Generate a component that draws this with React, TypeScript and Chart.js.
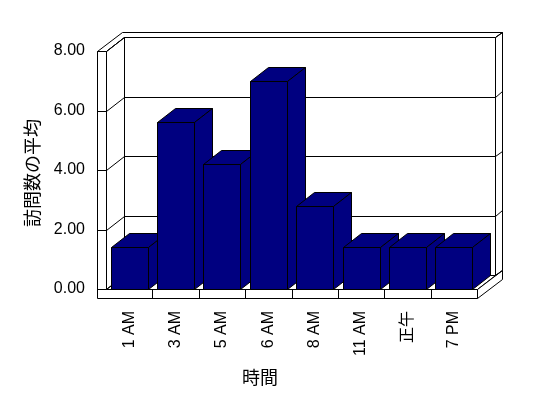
import React, { useEffect, useRef } from "react";
import { Chart, registerables } from "chart.js";

Chart.register(...registerables);

// ---- data ----
const categories = ["1 AM", "3 AM", "5 AM", "6 AM", "8 AM", "11 AM", "正午", "7 PM"];
const visits = [1.4, 5.6, 4.2, 7.0, 2.8, 1.4, 1.4, 1.4];
const yTicks = [0, 2, 4, 6, 8];
const yTitle = "訪問数の平均";
const xTitle = "時間";

// ---- layout / style ----
const W = 548;
const H = 398;
const AREA = { left: 106, right: 477, top: 51, bottom: 289 };
const DEPTH = { dx: 18, dy: -14 };
const WALL = { side: 9, floor: 9, back: 0.38 };
const BAR_COLOR = "#000080";
const LABEL_FONT = "'Liberation Sans', Arial, 'Noto Sans CJK JP', sans-serif";
const CJK_FONT = "'Noto Sans CJK JP', sans-serif";

const px = (v: number) => Math.round(v) + 0.5;

function poly(ctx: CanvasRenderingContext2D, pts: number[][], fill: string | null) {
  ctx.beginPath();
  pts.forEach(([a, b], i) => (i ? ctx.lineTo(px(a), px(b)) : ctx.moveTo(px(a), px(b))));
  ctx.closePath();
  if (fill) {
    ctx.fillStyle = fill;
    ctx.fill();
  }
  ctx.stroke();
}

function line(ctx: CanvasRenderingContext2D, x1: number, y1: number, x2: number, y2: number) {
  ctx.beginPath();
  ctx.moveTo(px(x1), px(y1));
  ctx.lineTo(px(x2), px(y2));
  ctx.stroke();
}

const box3d = {
  id: "box3d",
  beforeDatasetsDraw(chart: any) {
    const { ctx, chartArea: a, scales } = chart;
    const ys = scales.y;
    const xs = scales.x;
    const L = a.left, R = a.right, T = a.top, B = a.bottom;
    const { dx, dy } = DEPTH;
    const k = 1 + WALL.back;
    const S = WALL.side, F = WALL.floor;
    ctx.save();
    ctx.lineWidth = 1;
    ctx.strokeStyle = "#000";
    // back wall inner face
    poly(ctx, [[L + dx, T + dy], [R + dx, T + dy], [R + dx, B + dy], [L + dx, B + dy]], "#fff");
    // top faces (left wall + back wall)
    poly(ctx, [[L - S, T], [L - S + dx * k, T + dy * k], [R + dx * k, T + dy * k], [R + dx, T + dy], [L + dx, T + dy], [L, T]], "#fff");
    // back wall right face
    poly(ctx, [[R + dx, T + dy], [R + dx * k, T + dy * k], [R + dx * k, B + dy * k], [R + dx, B + dy]], "#fff");
    // left wall inner face
    poly(ctx, [[L, T], [L + dx, T + dy], [L + dx, B + dy], [L, B]], "#fff");
    // floor top
    poly(ctx, [[L, B], [R, B], [R + dx, B + dy], [L + dx, B + dy]], "#fff");
    // floor right face
    poly(ctx, [[R, B], [R + dx * k, B + dy * k], [R + dx * k, B + F + dy * k], [R, B + F]], "#fff");
    // front L (left wall front + floor front)
    poly(ctx, [[L - S, T], [L, T], [L, B], [R, B], [R, B + F], [L - S, B + F]], "#fff");
    // gridlines
    yTicks.forEach((v) => {
      const yy = ys.getPixelForValue(v);
      line(ctx, L + dx, yy + dy, R + dx, yy + dy);
      line(ctx, L, yy, L + dx, yy + dy);
      line(ctx, L - S, yy, L, yy);
      line(ctx, R + dx, yy + dy, R + dx * k, yy + dy * k);
    });
    // floor dividers between categories
    for (let i = 1; i < categories.length; i++) {
      const xb = (xs.getPixelForValue(i - 1) + xs.getPixelForValue(i)) / 2;
      line(ctx, xb, B, xb, B + F);
    }
    ctx.restore();
  },
  afterDatasetsDraw(chart: any) {
    const { ctx } = chart;
    const { dx, dy } = DEPTH;
    const meta = chart.getDatasetMeta(0);
    ctx.save();
    ctx.lineWidth = 1;
    ctx.strokeStyle = "#000";
    meta.data.forEach((bar: any) => {
      const { x, y, base, width } = bar.getProps(["x", "y", "base", "width"], true);
      const l = x - width / 2, r = x + width / 2;
      poly(ctx, [[l, y], [r, y], [r, base], [l, base]], BAR_COLOR);
      poly(ctx, [[l, y], [l + dx, y + dy], [r + dx, y + dy], [r, y]], BAR_COLOR);
      poly(ctx, [[r, y], [r + dx, y + dy], [r + dx, base + dy], [r, base]], BAR_COLOR);
    });
    ctx.restore();
  },
  afterDraw(chart: any) {
    const { ctx } = chart;
    ctx.save();
    ctx.fillStyle = "#000";
    ctx.font = `18px ${CJK_FONT}`;
    ctx.textAlign = "center";
    ctx.textBaseline = "middle";
    ctx.fillText(xTitle, 260, 377);
    ctx.translate(32, 173);
    ctx.rotate(-Math.PI / 2);
    ctx.fillText(yTitle, 0, 0);
    ctx.restore();
  },
};

export default function App() {
  const ref = useRef<HTMLCanvasElement>(null);
  useEffect(() => {
    const canvas = ref.current!;
    const chart = new Chart(canvas, {
      type: "bar",
      data: {
        labels: categories,
        datasets: [
          {
            data: visits,
            backgroundColor: "rgba(0,0,0,0)",
            borderWidth: 0,
            barPercentage: 0.8,
            categoryPercentage: 1.0,
          },
        ],
      },
      options: {
        responsive: false,
        animation: false,
        devicePixelRatio: 1,
        layout: { padding: { left: 0, top: AREA.top, right: W - AREA.right, bottom: 0 } },
        plugins: { legend: { display: false }, tooltip: { enabled: false }, title: { display: false } },
        scales: {
          x: {
            grid: { display: false, drawTicks: false },
            border: { display: false },
            ticks: {
              autoSkip: false,
              minRotation: 90,
              maxRotation: 90,
              padding: 22,
              color: "#000",
              font: { family: LABEL_FONT, size: 16 },
            },
            afterFit: (s: any) => {
              s.height = H - AREA.bottom;
            },
          },
          y: {
            min: 0,
            max: 8,
            grid: { display: false, drawTicks: false },
            border: { display: false },
            ticks: {
              stepSize: 2,
              padding: 21,
              color: "#000",
              font: { family: LABEL_FONT, size: 16 },
              callback: (v: any) => Number(v).toFixed(2),
            },
            afterFit: (s: any) => {
              s.width = AREA.left;
            },
          },
        },
      },
      plugins: [box3d],
    });
    return () => chart.destroy();
  }, []);
  return (
    <div style={{ position: "fixed", left: 0, top: 0, width: W, height: H, background: "#fff" }}>
      <canvas ref={ref} width={W} height={H} style={{ display: "block" }} />
    </div>
  );
}
